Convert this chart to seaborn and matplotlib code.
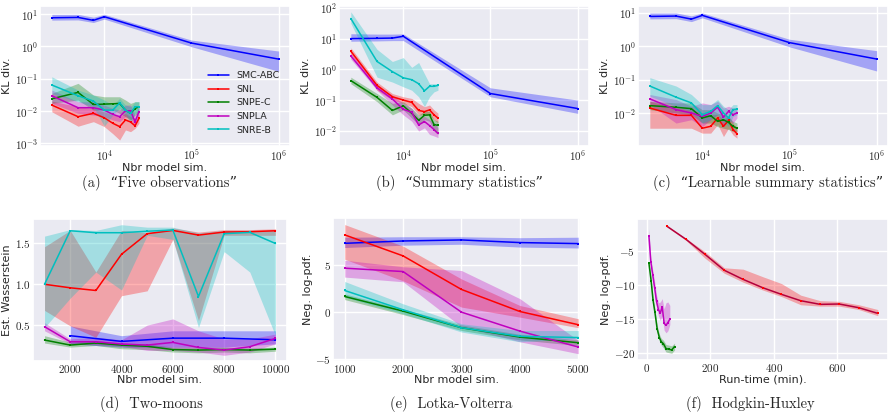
import numpy as np
import matplotlib
matplotlib.use("Agg")
import matplotlib.pyplot as plt
from matplotlib.ticker import FuncFormatter
import seaborn as sns

# ---------------- data ----------------
methods = ["SMC-ABC", "SNL", "SNPE-C", "SNPLA", "SNRE-B"]
colors = {"SMC-ABC": "#0000ff", "SNL": "#ff0000", "SNPE-C": "#008000",
          "SNPLA": "#bf00bf", "SNRE-B": "#00bfbf"}

x_smc = [2500, 5000, 7500, 10000, 100000, 1000000]
x_seq = [2500, 5000, 7500, 10000, 12500, 15000, 17500, 20000, 22500, 25000]

# (a) Five observations
a_smc = [7.7, 7.9, 6.4, 8.3, 1.27, 0.405]
a_smc_lo = [6.5, 6.6, 5.5, 7.0, 0.98, 0.17]
a_smc_hi = [9.8, 9.8, 8.0, 9.8, 1.57, 0.72]
a_snl = [0.0153, 0.0067, 0.0085, 0.0062, 0.0042, 0.0033, 0.0053, 0.0046, 0.0035, 0.0059]
a_snl_lo = [0.0095, 0.0034, 0.0047, 0.0033, 0.0020, 0.00127, 0.0026, 0.0023, 0.0029, 0.0042]
a_snl_hi = [0.0204, 0.0136, 0.0121, 0.0095, 0.0075, 0.0070, 0.0085, 0.0067, 0.0059, 0.0085]
a_snpe = [0.024, 0.0378, 0.016, 0.0164, 0.0168, 0.0172, 0.0107, 0.0085, 0.012, 0.0136]
a_snpe_lo = [0.0173, 0.0219, 0.0107, 0.0107, 0.0107, 0.0085, 0.0067, 0.0053, 0.0075, 0.0085]
a_snpe_hi = [0.0352, 0.072, 0.0313, 0.0277, 0.0277, 0.0277, 0.0219, 0.0173, 0.0194, 0.0194]
a_snpla = [0.0298, 0.0127, 0.0127, 0.0107, 0.0079, 0.0067, 0.0102, 0.0102, 0.0047, 0.0095]
a_snpla_lo = [0.0173, 0.0085, 0.0075, 0.0067, 0.0053, 0.0047, 0.0067, 0.0059, 0.0033, 0.0067]
a_snpla_hi = [0.0446, 0.0194, 0.0194, 0.0153, 0.0121, 0.0107, 0.0153, 0.0153, 0.0075, 0.0136]
a_snre = [0.064, 0.0298, 0.0204, 0.0107, 0.0107, 0.018, 0.0107, 0.0085, 0.0136, 0.0136]
a_snre_lo = [0.0352, 0.0194, 0.0136, 0.0034, 0.0075, 0.0121, 0.0085, 0.0042, 0.0085, 0.0095]
a_snre_hi = [0.115, 0.0446, 0.0313, 0.0219, 0.0153, 0.0246, 0.0153, 0.0136, 0.0194, 0.0194]

# (b) Summary statistics
b_smc = [10.0, 10.2, 10.4, 11.9, 0.163, 0.053]
b_smc_lo = [8.2, 8.4, 8.6, 8.6, 0.128, 0.037]
b_smc_hi = [14.4, 14.0, 14.0, 14.2, 0.25, 0.1]
b_snl = [3.9, 0.30, 0.128, 0.1, 0.084, 0.046, 0.042, 0.048, 0.033, 0.026]
b_snl_lo = [3.08, 0.209, 0.1, 0.078, 0.061, 0.033, 0.033, 0.033, 0.023, 0.018]
b_snl_hi = [5.0, 0.385, 0.163, 0.128, 0.113, 0.078, 0.061, 0.069, 0.048, 0.0375]
b_snpe = [0.43, 0.122, 0.046, 0.065, 0.037, 0.022, 0.032, 0.033, 0.016, 0.015]
b_snpe_lo = [0.34, 0.0885, 0.033, 0.048, 0.026, 0.0159, 0.023, 0.0204, 0.0098, 0.0076]
b_snpe_hi = [0.556, 0.163, 0.078, 0.0885, 0.054, 0.033, 0.0425, 0.0425, 0.023, 0.0204]
b_snpla = [2.73, 0.25, 0.108, 0.050, 0.04, 0.0155, 0.020, 0.0148, 0.011, 0.0082]
b_snpla_lo = [2.14, 0.209, 0.069, 0.033, 0.0204, 0.0098, 0.0125, 0.0076, 0.0068, 0.006]
b_snpla_hi = [3.4, 0.30, 0.145, 0.078, 0.054, 0.026, 0.0294, 0.023, 0.018, 0.0125]
b_snre = [45.0, 1.8, 0.84, 0.53, 0.46, 0.34, 0.20, 0.28, 0.28, 0.30]
b_snre_lo = [31.6, 0.556, 0.385, 0.27, 0.209, 0.128, 0.061, 0.128, 0.185, 0.209]
b_snre_hi = [74.5, 4.46, 1.8, 2.41, 1.16, 1.67, 0.71, 0.34, 0.34, 0.34]

# (c) Learnable summary statistics
c_smc = [7.7, 7.9, 6.4, 8.3, 1.27, 0.41]
c_smc_lo = [6.5, 6.6, 5.4, 7.0, 0.95, 0.18]
c_smc_hi = [9.8, 9.8, 8.0, 9.8, 1.6, 0.73]
c_snl = [0.0141, 0.0085, 0.0085, 0.0035, 0.0040, 0.0071, 0.0040, 0.0060, 0.0032, 0.0024]
c_snl_lo = [0.0035, 0.0035, 0.0035, 0.0025, 0.0025, 0.0045, 0.00197, 0.0035, 0.0022, 0.00176]
c_snl_hi = [0.0225, 0.0141, 0.0126, 0.010, 0.0089, 0.0089, 0.0063, 0.0079, 0.005, 0.0035]
c_snpe = [0.0166, 0.0148, 0.0135, 0.0071, 0.0083, 0.0056, 0.0063, 0.0052, 0.004, 0.0035]
c_snpe_lo = [0.0126, 0.010, 0.0089, 0.005, 0.005, 0.0039, 0.0035, 0.0032, 0.0028, 0.0028]
c_snpe_hi = [0.0225, 0.020, 0.020, 0.0126, 0.0126, 0.010, 0.0089, 0.0079, 0.0056, 0.005]
c_snpla = [0.0264, 0.0126, 0.010, 0.0079, 0.010, 0.015, 0.0075, 0.0112, 0.0089, 0.010]
c_snpla_lo = [0.0178, 0.005, 0.0063, 0.0039, 0.0063, 0.0089, 0.0039, 0.0063, 0.005, 0.0071]
c_snpla_hi = [0.0357, 0.0252, 0.0159, 0.020, 0.0178, 0.0225, 0.0141, 0.0159, 0.0141, 0.0141]
c_snre = [0.064, 0.0297, 0.020, 0.0089, 0.0112, 0.0166, 0.010, 0.0071, 0.0126, 0.013]
c_snre_lo = [0.0318, 0.0159, 0.0112, 0.005, 0.0063, 0.0089, 0.0056, 0.0039, 0.0079, 0.0089]
c_snre_hi = [0.114, 0.064, 0.0357, 0.0178, 0.0178, 0.0252, 0.0159, 0.0126, 0.0178, 0.0178]

# (d) Two-moons
x_d = [1000, 2000, 3000, 4000, 5000, 6000, 7000, 8000, 9000, 10000]
x_d_smc = [2000, 4000, 6000, 8000, 10000]
d_smc = [0.37, 0.30, 0.34, 0.34, 0.32]
d_smc_lo = [0.27, 0.23, 0.23, 0.23, 0.27]
d_smc_hi = [0.49, 0.37, 0.43, 0.43, 0.43]
d_snl = [1.0, 0.957, 0.924, 1.368, 1.62, 1.66, 1.603, 1.64, 1.644, 1.656]
d_snl_lo = [0.68, 0.49, 0.35, 0.86, 0.92, 1.55, 0.556, 1.60, 1.60, 1.60]
d_snl_hi = [1.46, 1.66, 1.15, 1.66, 1.63, 1.69, 1.64, 1.67, 1.67, 1.68]
d_snpe = [0.317, 0.255, 0.28, 0.255, 0.24, 0.2, 0.194, 0.2, 0.194, 0.205]
d_snpe_lo = [0.28, 0.23, 0.25, 0.21, 0.2, 0.17, 0.16, 0.17, 0.16, 0.18]
d_snpe_hi = [0.37, 0.29, 0.31, 0.28, 0.27, 0.23, 0.23, 0.23, 0.22, 0.23]
d_snpla = [0.48, 0.296, 0.296, 0.268, 0.255, 0.288, 0.226, 0.194, 0.235, 0.337]
d_snpla_lo = [0.43, 0.27, 0.26, 0.24, 0.19, 0.19, 0.17, 0.13, 0.17, 0.27]
d_snpla_hi = [0.53, 0.33, 0.35, 0.32, 0.50, 0.576, 0.43, 0.33, 0.33, 0.39]
d_snre = [1.0, 1.656, 1.632, 1.632, 1.65, 1.665, 0.85, 1.62, 1.636, 1.5]
d_snre_lo = [0.47, 0.83, 1.15, 0.93, 1.60, 1.55, 0.47, 1.40, 1.15, 0.37]
d_snre_hi = [1.59, 1.67, 1.66, 1.73, 1.70, 1.70, 1.63, 1.66, 1.66, 1.66]

# (e) Lotka-Volterra
x_e = [1000, 2000, 3000, 4000, 5000]
e_smc = [7.3, 7.55, 7.66, 7.38, 7.27]
e_smc_lo = [6.85, 7.1, 7.2, 6.9, 6.8]
e_smc_hi = [7.95, 8.0, 8.0, 7.9, 7.95]
e_snl = [8.2, 5.96, 2.38, 0.03, -1.38]
e_snl_lo = [5.6, 3.3, 0.5, -0.57, -1.7]
e_snl_hi = [9.3, 7.0, 3.5, 0.67, -0.74]
e_snpe = [1.63, 0.07, -1.7, -2.7, -3.3]
e_snpe_lo = [1.3, -0.3, -2.0, -3.0, -3.6]
e_snpe_hi = [1.9, 0.3, -1.4, -2.4, -3.0]
e_snpla = [4.65, 4.29, -0.04, -2.06, -3.76]
e_snpla_lo = [3.7, 3.2, -1.6, -3.2, -4.47]
e_snpla_hi = [5.5, 4.8, 4.4, 1.4, -3.05]
e_snre = [2.27, 0.21, -1.70, -2.62, -2.75]
e_snre_lo = [1.56, -0.21, -2.16, -3.2, -2.87]
e_snre_hi = [3.23, 0.85, -1.28, -2.0, -2.0]

# (f) Hodgkin-Huxley (run-time in minutes)
f_snl_x = [62, 123, 183, 244, 303, 365, 424, 485, 546, 606, 668, 728]
f_snl = [-1.4, -3.34, -5.54, -7.87, -9.19, -10.41, -11.38, -12.31, -12.84, -12.79, -13.33, -14.16]
f_snl_lo = [-1.5, -3.5, -6.1, -8.3, -9.6, -10.75, -11.7, -12.9, -13.1, -13.1, -13.6, -14.5]
f_snl_hi = [-1.3, -3.2, -5.15, -7.5, -7.7, -8.8, -9.8, -11.5, -12.3, -12.4, -12.9, -13.6]
f_snpe_x = [6, 13, 19, 25, 32, 39, 45, 52, 60, 69, 78, 87]
f_snpe = [-6.8, -9.4, -12.2, -14.0, -16.4, -17.7, -18.3, -18.6, -19.3, -19.4, -19.5, -19.0]
f_snpe_lo = [-7.1, -9.8, -12.6, -14.5, -16.9, -18.2, -18.8, -19.2, -19.8, -19.9, -20.0, -19.5]
f_snpe_hi = [-6.5, -9.0, -11.8, -13.5, -15.9, -17.2, -17.8, -18.1, -18.7, -18.8, -18.9, -18.5]
f_snpla_x = [6, 12, 18, 24, 30, 36, 42, 48, 54, 60, 66, 72]
f_snpla = [-2.8, -6.6, -8.5, -10.4, -12.4, -13.6, -14.1, -13.2, -15.6, -15.9, -15.5, -15.0]
f_snpla_lo = [-3.5, -7.2, -9.2, -11.2, -13.2, -14.5, -15.2, -14.5, -16.6, -17.0, -16.7, -15.8]
f_snpla_hi = [-1.8, -6.0, -7.8, -9.5, -11.5, -12.6, -12.5, -12.0, -13.5, -12.6, -12.5, -13.0]

captions = ["(a)  \u201cFive observations\u201d", "(b)  \u201cSummary statistics\u201d",
            "(c)  \u201cLearnable summary statistics\u201d", "(d)  Two-moons",
            "(e)  Lotka-Volterra", "(f)  Hodgkin-Huxley"]

# ---------------- style ----------------
sns.set_theme(style="darkgrid")
plt.rcParams["font.family"] = ["DejaVu Sans"]
plt.rcParams["mathtext.fontset"] = "cm"
plt.rcParams["mathtext.default"] = "rm"
plt.rcParams["xtick.major.pad"] = 1.5
plt.rcParams["ytick.major.pad"] = 1.5

fig = plt.figure(figsize=(8.88, 4.15), dpi=100)
W, H = 888.0, 415.0


def add_ax(l, t, r, b):
    return fig.add_axes([l / W, 1 - b / H, (r - l) / W, (b - t) / H])


ax_a = add_ax(40, 6, 290, 146)
ax_b = add_ax(339, 6, 589, 146)
ax_c = add_ax(638, 6, 888, 146)
ax_d = add_ax(33, 219, 287, 361)
ax_e = add_ax(333, 218, 580, 361)
ax_f = add_ax(637, 219, 888, 360)

LW = 1.1
MS = 2.0
ALPHA = 0.3

log_fmt = FuncFormatter(lambda v, p: "$10^{%d}$" % int(round(np.log10(v))) if v > 0 else "")
int_fmt = FuncFormatter(lambda v, p: "$%d$" % int(round(v)))
dec_fmt = FuncFormatter(lambda v, p: "$%.1f$" % v)


def series(ax, x, y, lo, hi, name, label=True, line_color=None):
    c = colors[name]
    ax.fill_between(x, lo, hi, color=c, alpha=ALPHA, linewidth=0)
    sns.lineplot(x=x, y=y, ax=ax, color=line_color or c, linewidth=LW, marker="s",
                 markersize=MS, markeredgewidth=0, markerfacecolor=c,
                 label=name if label else None, legend=False)


kl_panels = [
    (ax_a, [(a_smc, a_smc_lo, a_smc_hi), (a_snl, a_snl_lo, a_snl_hi), (a_snpe, a_snpe_lo, a_snpe_hi),
            (a_snpla, a_snpla_lo, a_snpla_hi), (a_snre, a_snre_lo, a_snre_hi)], (8.3e-4, 17.8)),
    (ax_b, [(b_smc, b_smc_lo, b_smc_hi), (b_snl, b_snl_lo, b_snl_hi), (b_snpe, b_snpe_lo, b_snpe_hi),
            (b_snpla, b_snpla_lo, b_snpla_hi), (b_snre, b_snre_lo, b_snre_hi)], (3.2e-3, 115)),
    (ax_c, [(c_smc, c_smc_lo, c_smc_hi), (c_snl, c_snl_lo, c_snl_hi), (c_snpe, c_snpe_lo, c_snpe_hi),
            (c_snpla, c_snpla_lo, c_snpla_hi), (c_snre, c_snre_lo, c_snre_hi)], (1.03e-3, 15.8)),
]

for ax, data, ylim in kl_panels:
    for name, (y, lo, hi) in zip(methods, data):
        x = x_smc if name == "SMC-ABC" else x_seq
        series(ax, x, y, lo, hi, name, label=(ax is ax_a))
    ax.set_xscale("log")
    ax.set_yscale("log")
    ax.set_xlim(1830, 1.35e6)
    ax.set_ylim(*ylim)
    ax.xaxis.set_major_formatter(log_fmt)
    ax.yaxis.set_major_formatter(log_fmt)
    ax.xaxis.set_minor_formatter(FuncFormatter(lambda v, p: ""))
    ax.yaxis.set_minor_formatter(FuncFormatter(lambda v, p: ""))
    ax.set_xlabel("Nbr model sim.", labelpad=0)
    ax.set_ylabel("KL div.", labelpad=2)

# (d)
d_data = [(x_d_smc, d_smc, d_smc_lo, d_smc_hi), (x_d, d_snl, d_snl_lo, d_snl_hi),
          (x_d, d_snpe, d_snpe_lo, d_snpe_hi), (x_d, d_snpla, d_snpla_lo, d_snpla_hi),
          (x_d, d_snre, d_snre_lo, d_snre_hi)]
for name, (x, y, lo, hi) in zip(methods, d_data):
    series(ax_d, x, y, lo, hi, name, label=False)
ax_d.set_xlim(550, 10450)
ax_d.set_ylim(0.06, 1.80)
ax_d.set_xticks([2000, 4000, 6000, 8000, 10000])
ax_d.set_yticks([0.5, 1.0, 1.5])
ax_d.xaxis.set_major_formatter(int_fmt)
ax_d.yaxis.set_major_formatter(dec_fmt)
ax_d.set_xlabel("Nbr model sim.", labelpad=0)
ax_d.set_ylabel("Est. Wasserstein", labelpad=2)

# (e)
e_data = [(e_smc, e_smc_lo, e_smc_hi), (e_snl, e_snl_lo, e_snl_hi), (e_snpe, e_snpe_lo, e_snpe_hi),
          (e_snpla, e_snpla_lo, e_snpla_hi), (e_snre, e_snre_lo, e_snre_hi)]
for name, (y, lo, hi) in zip(methods, e_data):
    series(ax_e, x_e, y, lo, hi, name, label=False)
ax_e.set_xlim(800, 5030)
ax_e.set_ylim(-5.25, 10.0)
ax_e.set_xticks([1000, 2000, 3000, 4000, 5000])
ax_e.set_yticks([-5, 0, 5])
ax_e.xaxis.set_major_formatter(int_fmt)
ax_e.yaxis.set_major_formatter(int_fmt)
ax_e.set_xlabel("Nbr model sim.", labelpad=0)
ax_e.set_ylabel("Neg. log-pdf.", labelpad=2)

# (f)
series(ax_f, f_snl_x, f_snl, f_snl_lo, f_snl_hi, "SNL", label=False, line_color="#b4003c")
series(ax_f, f_snpe_x, f_snpe, f_snpe_lo, f_snpe_hi, "SNPE-C", label=False)
series(ax_f, f_snpla_x, f_snpla, f_snpla_lo, f_snpla_hi, "SNPLA", label=False)
ax_f.set_xlim(-31.5, 760)
ax_f.set_ylim(-20.97, -0.37)
ax_f.set_xticks([0, 200, 400, 600])
ax_f.set_yticks([-5, -10, -15, -20])
ax_f.xaxis.set_major_formatter(int_fmt)
ax_f.yaxis.set_major_formatter(int_fmt)
ax_f.set_xlabel("Run-time (min).", labelpad=0)
ax_f.set_ylabel("Neg. log-pdf.", labelpad=2)

for ax in [ax_a, ax_b, ax_c, ax_d, ax_e, ax_f]:
    ax.tick_params(labelsize=8, length=0, which="both")
    ax.xaxis.label.set_size(8)
    ax.yaxis.label.set_size(8)
    ax.grid(True, which="major", color="white", linewidth=1.0)
    ax.grid(False, which="minor")

ax_a.legend(loc="upper left", bbox_to_anchor=(0.655, 0.56), frameon=False, fontsize=6.8,
            handlelength=2.3, handletextpad=0.8, labelspacing=0.48, borderaxespad=0)

cap_pos = [(159, 183), (459, 183), (768, 183), (151, 404), (451, 404), (750, 404)]
for text, (cx, cy) in zip(captions, cap_pos):
    fig.text(cx / W, 1 - cy / H, text, ha="center", va="center", fontsize=10.5,
             family=["cmr10", "DejaVu Serif"])

fig.savefig("out.png", dpi=100)
